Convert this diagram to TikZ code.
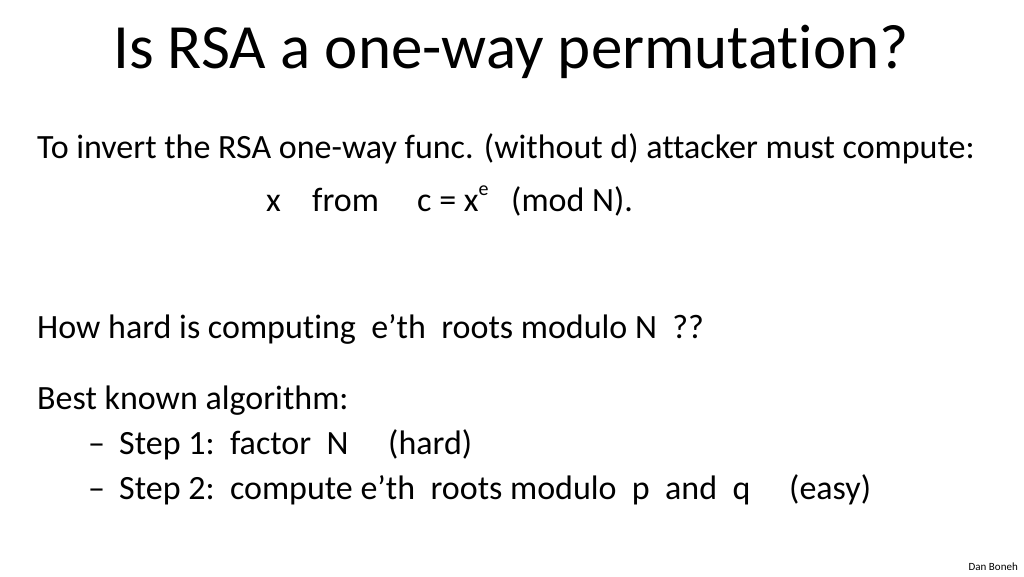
\documentclass[tikz,border=0pt]{standalone}
\usepackage{fontspec}
\setmainfont{Carlito}[Ligatures=NoCommon]
\begin{document}
\begin{tikzpicture}[x=1pt,y=-1pt,
  body/.style={anchor=base west,inner sep=0pt,font=\fontsize{34}{40}\selectfont}]
\useasboundingbox (0,0) rectangle (1024,576);
\node[anchor=base,inner sep=0pt,font=\fontsize{63}{72}\selectfont] (title) at (511,68) {Is RSA a one-way permutation?};
\node[body] (l1) at (37,158) {To invert the RSA one-way func. (without d) attacker must compute:};
\node[body] (x) at (266,211) {x};
\node[body] (from) at (312,211) {from};
\node[body] (c) at (417,211) {c = x\raisebox{0.45em}{\fontsize{20}{20}\selectfont e}};
\node[body] (mod) at (511,211) {(mod N).};
\node[body] (l3) at (37,338) {How hard is computing\ \ e’th\ \ roots modulo N\ \ ??};
\node[body] (l4) at (37,409) {Best known algorithm:};
\node[body] (d1) at (88,454) {–};
\node[body] (s1) at (119,454) {Step 1:\ \ factor\ \ N};
\node[body] (h) at (388,454) {(hard)};
\node[body] (d2) at (88,499) {–};
\node[body] (s2) at (119,499) {Step 2:\ \ compute e’th\ \ roots modulo\ \ p\ \ and\ \ q};
\node[body] (e) at (789,499) {(easy)};
\node[anchor=base east,inner sep=0pt,font=\fontsize{11}{13}\selectfont] (db) at (1018,570) {Dan Boneh};
\end{tikzpicture}
\end{document}
